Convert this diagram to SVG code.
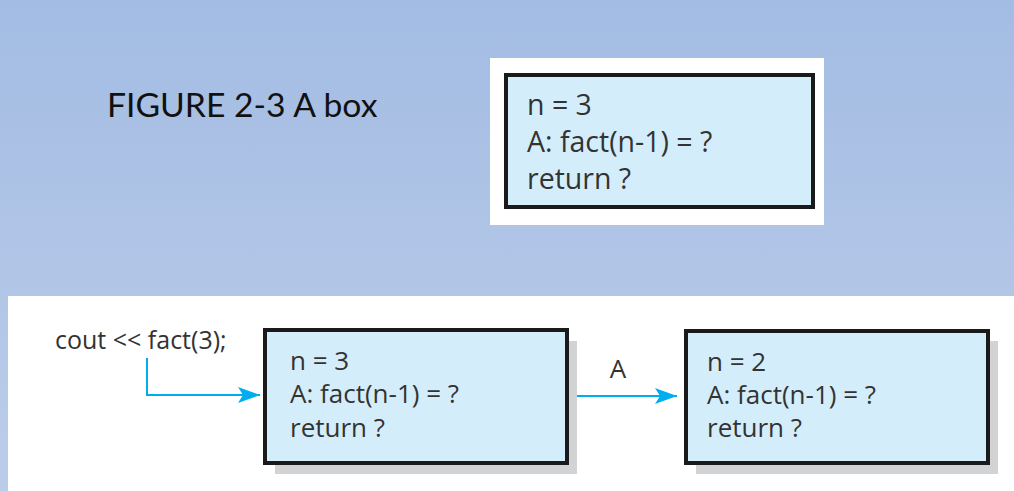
<svg xmlns="http://www.w3.org/2000/svg" width="1014" height="491" viewBox="0 0 1014 491">
<defs>
<linearGradient id="bg" x1="0" y1="0" x2="0" y2="1">
<stop offset="0" stop-color="#a3bce3"/>
<stop offset="1" stop-color="#bccde9"/>
</linearGradient>
<marker id="ah" markerWidth="22" markerHeight="16" refX="22" refY="8" orient="auto" markerUnits="userSpaceOnUse">
<path d="M0,0 L22,8 L0,16 L5,8 Z" fill="#00aeef"/>
</marker>
<style>
.box{fill:#d3eefa;stroke:#1a1a1a;stroke-width:4}
.shadow{fill:#d1d3d4}
.t{font-family:"Open Sans","Noto Sans",sans-serif;font-size:26px;fill:#333}
.tt{font-family:"Open Sans","Noto Sans",sans-serif;font-size:28.5px;fill:#333}
.c{font-family:"Open Sans","Noto Sans",sans-serif;font-size:25px;fill:#333}
.title{font-family:Lato,"Liberation Sans",sans-serif;font-size:33.7px;fill:#111}
.conn{fill:none;stroke:#00aeef;stroke-width:2}
</style>
</defs>
<rect x="0" y="0" width="1014" height="491" fill="url(#bg)"/>
<rect x="490" y="58" width="334" height="167" fill="#fff"/>
<rect x="8" y="296" width="1006" height="195" fill="#fff"/>
<text class="title" x="107" y="117">FIGURE 2-3 A box</text>
<g id="topbox">
<rect class="box" x="506" y="75" width="307" height="132"/>
<text class="tt" x="527" y="115">n = 3</text>
<text class="tt" x="527" y="152">A: fact(n-1) = ?</text>
<text class="tt" x="527" y="189">return ?</text>
</g>
<g id="caller">
<text class="c" x="55" y="349">cout &lt;&lt; fact(3);</text>
</g>
<g id="box1">
<rect class="shadow" x="275" y="341" width="302" height="133"/>
<rect class="box" x="265" y="330" width="302" height="133"/>
<text class="t" x="290" y="370">n = 3</text>
<text class="t" x="290" y="403">A: fact(n-1) = ?</text>
<text class="t" x="290" y="437">return ?</text>
</g>
<g id="box2">
<rect class="shadow" x="696" y="341" width="302" height="133"/>
<rect class="box" x="686" y="331" width="302" height="132"/>
<text class="t" x="707" y="371">n = 2</text>
<text class="t" x="707" y="404">A: fact(n-1) = ?</text>
<text class="t" x="707" y="437">return ?</text>
</g>
<g id="connectors">
<path class="conn" d="M147,358 V395 H260" marker-end="url(#ah)"/>
<path class="conn" d="M577,396 H677" marker-end="url(#ah)"/>
<text class="t" x="618" y="378" text-anchor="middle">A</text>
</g>
</svg>
